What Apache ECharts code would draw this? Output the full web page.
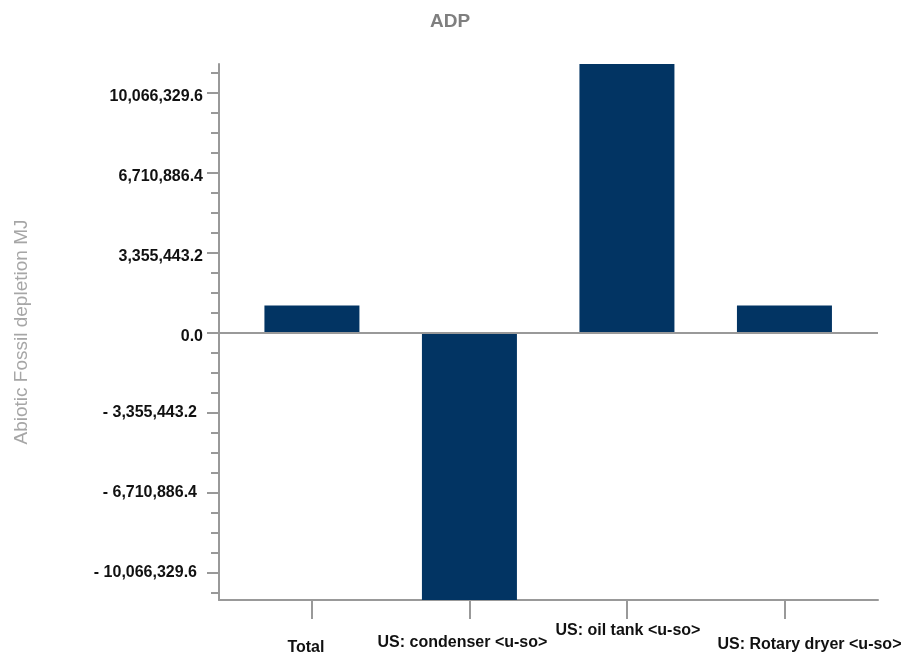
<!DOCTYPE html>
<html>
<head>
<meta charset="utf-8">
<script src="https://cdn.jsdelivr.net/npm/echarts@6/dist/echarts.min.js"></script>
<style>html,body{margin:0;padding:0;background:#fff}#c{width:908px;height:658px}</style>
</head>
<body>
<div id="c"></div>
<script>
const categories = ['Total', 'US: condenser <u-so>', 'US: oil tank <u-so>', 'US: Rotary dryer <u-so>'];
const values = [1132000, -11220000, 11262000, 1132000];
const yTickValues = [-10066329.6, -6710886.4, -3355443.2, 0, 3355443.2, 6710886.4, 10066329.6];
const yMin = -11219794;
const yMax = 11261675;

const sans = '"Liberation Sans", Arial, sans-serif';
const step = yTickValues[4] - yTickValues[3];
const yMinorTicks = [];
for (let k = -14; k <= 14; k++) {
  const v = step / 4 * k;
  if (k % 4 !== 0 && v >= yMin && v <= yMax) yMinorTicks.push(v);
}
function fmt(v) {
  const s = Math.abs(v).toLocaleString('en-US', {minimumFractionDigits: 1, maximumFractionDigits: 1});
  return v < -0.05 ? '{n|- ' + s + '}' : '{p|' + s + '}';
}
const labelShift = [[17, 12, 0, 0], [12, 14, 0, 0], [0, 0, 0, 2], [14, 0, 0, 50]];
const rich = {};
labelShift.forEach((p, i) => {
  rich['c' + i] = {padding: [p[0], p[1], 0, p[3]], fontFamily: sans, fontWeight: 'bold', fontSize: 16, color: '#111'};
});

const chart = echarts.init(document.getElementById('c'), null, {renderer: 'canvas'});
chart.setOption({
  animation: false,
  backgroundColor: '#fff',
  title: {
    text: 'ADP', left: 445, top: 7, textAlign: 'center',
    textStyle: {fontFamily: sans, fontWeight: 'bold', fontSize: 19, color: '#7f7f7f'}
  },
  grid: {left: 219, right: 30, top: 64, bottom: 58},
  xAxis: {
    type: 'value', min: -0.59, max: 3.594,
    axisLine: {onZero: false, lineStyle: {color: '#999', width: 2}},
    axisTick: {show: true, customValues: [0, 1, 2, 3], length: 19, lineStyle: {color: '#999', width: 2}},
    axisLabel: {
      customValues: [0, 1, 2, 3], margin: 23,
      formatter: v => '{c' + Math.round(v) + '|' + categories[Math.round(v)] + '}',
      rich: rich
    },
    splitLine: {show: false}
  },
  yAxis: [{
    type: 'value', min: yMin, max: yMax, position: 'left',
    name: 'Abiotic Fossil depletion MJ', nameLocation: 'middle', nameRotate: 90, nameGap: 188,
    nameTextStyle: {fontFamily: sans, fontSize: 19, color: '#a6a6a6'},
    axisLine: {show: true, onZero: false, lineStyle: {color: '#999', width: 2}},
    axisTick: {show: true, customValues: yTickValues, length: 12, lineStyle: {color: '#999', width: 2}},
    axisLabel: {
      customValues: yTickValues, formatter: fmt, margin: 16,
      rich: {
        p: {padding: [8, 0, 0, 0], fontFamily: sans, fontWeight: 'bold', fontSize: 16, color: '#111'},
        n: {padding: [0, 6, 0, 0], fontFamily: sans, fontWeight: 'bold', fontSize: 16, color: '#111'}
      }
    },
    splitLine: {show: false}
  }, {
    type: 'value', min: yMin, max: yMax, position: 'left',
    axisLine: {show: false, onZero: false},
    axisTick: {show: true, customValues: yMinorTicks, length: 8, lineStyle: {color: '#999', width: 2}},
    axisLabel: {show: false},
    splitLine: {show: false}
  }],
  series: [{
    type: 'bar', barWidth: 95,
    data: values.map((v, i) => [i, v]),
    itemStyle: {color: '#023463'},
    markLine: {
      silent: true, symbol: 'none', label: {show: false},
      lineStyle: {color: '#999', width: 2, type: 'solid'},
      data: [{yAxis: 0}]
    }
  }]
});
</script>
</body>
</html>
